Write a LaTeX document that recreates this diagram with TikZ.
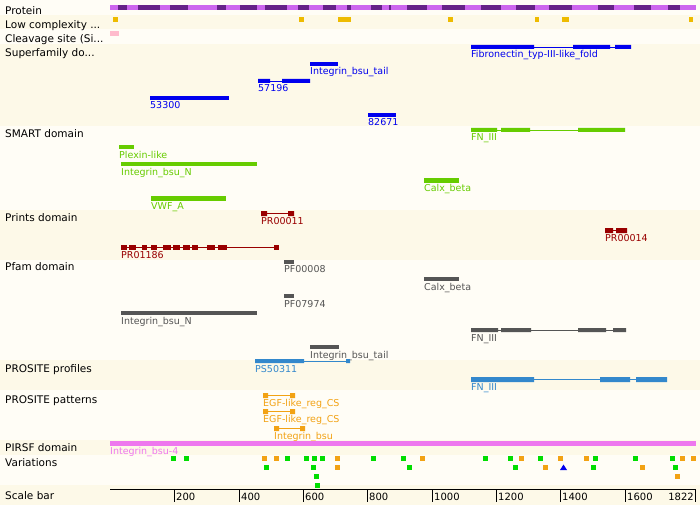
\documentclass[tikz,border=0pt]{standalone}
\usepackage{fontspec}
\setmainfont{DejaVu Sans}
\definecolor{cream}{RGB}{253,249,232}
\definecolor{pale}{RGB}{255,253,246}
\definecolor{protlight}{RGB}{204,102,238}
\definecolor{protdark}{RGB}{102,34,136}
\definecolor{lowc}{RGB}{238,187,0}
\definecolor{cleav}{RGB}{255,187,204}
\definecolor{sfblue}{RGB}{0,0,238}
\definecolor{smgreen}{RGB}{102,204,0}
\definecolor{prred}{RGB}{153,0,0}
\definecolor{pfgray}{RGB}{85,85,85}
\definecolor{psblue}{RGB}{51,136,204}
\definecolor{ptorange}{RGB}{242,162,20}
\definecolor{pirsf}{RGB}{238,119,238}
\definecolor{vgreen}{RGB}{0,221,0}
\begin{document}
\begin{tikzpicture}[x=1pt,y=-1pt,
  trk/.style={anchor=base west,inner sep=0pt,font=\fontsize{10.5}{12}\selectfont},
  flab/.style={anchor=base west,inner sep=0pt,text=#1,font=\fontsize{9.5}{11}\selectfont},
  link/.style={draw=#1,line width=0.8pt}]
\useasboundingbox (0,0) rectangle (700,505);
% row bands
\foreach \a/\b/\c in {0/15/pale,15/29/cream,29/44/pale,44/126/cream,126/210/pale,210/260/cream,
  260/360/pale,360/390/cream,390/440/pale,440/455/cream,455/485/pale,485/505/cream}
  \fill[\c] (0,\a) rectangle (700,\b);
% track names
\node[trk] (tprot) at (5,15) {Protein};
\node[trk] (tlowc) at (5,29) {Low complexity ...};
\node[trk] (tcleav) at (5,43) {Cleavage site (Si...};
\node[trk] (tsf) at (5,57) {Superfamily do...};
\node[trk] (tsmart) at (5,138) {SMART domain};
\node[trk] (tprints) at (5,221) {Prints domain};
\node[trk] (tpfam) at (5,270) {Pfam domain};
\node[trk] (tprof) at (5,372) {PROSITE profiles};
\node[trk] (tpatt) at (5,403) {PROSITE patterns};
\node[trk] (tpirsf) at (5,451) {PIRSF domain};
\node[trk] (tvar) at (5,466) {Variations};
\node[trk] (tscale) at (5,499) {Scale bar};
% protein
\fill[protlight] (110,5) rectangle (696,10);
\foreach \a/\b in {118/127,138/160,170/188,217/226,240/257,265/287,298/309,323/336,347/351,
  371/382,389/391,407/427,442/465,481/501,516/535,549/572,598/614,634/651,668/680}
  \fill[protdark] (\a,5) rectangle (\b,10);
% low complexity, cleavage
\foreach \a/\b in {113/118,299/304,338/351,448/453,535/539,562/569,689/693}
  \fill[lowc] (\a,17) rectangle (\b,22);
\fill[cleav] (110,31) rectangle (119,36);
% superfamily
\draw[link=sfblue] (534,47) -- (615,47);
\fill[sfblue] (471,45) rectangle (534,49) (573,45) rectangle (610,49) (615,45) rectangle (631,49);
\node[flab=sfblue] (sffn) at (471,58) {Fibronectin\_typ-III-like\_fold};
\fill[sfblue] (310,62) rectangle (338,66);
\node[flab=sfblue] (sftail) at (310,75) {Integrin\_bsu\_tail};
\draw[link=sfblue] (270,81) -- (282,81);
\fill[sfblue] (258,79) rectangle (270,83) (282,79) rectangle (310,83);
\node[flab=sfblue] (sf57196) at (258,92) {57196};
\fill[sfblue] (150,96) rectangle (229,100);
\node[flab=sfblue] (sf53300) at (150,109) {53300};
\fill[sfblue] (368,113) rectangle (396,117);
\node[flab=sfblue] (sf82671) at (368,126) {82671};
% SMART
\draw[link=smgreen] (471,130) -- (625,130);
\fill[smgreen] (471,128) rectangle (497,132) (501,128) rectangle (530,132) (578,128) rectangle (625,132);
\node[flab=smgreen] (smfn) at (471,141) {FN\_III};
\fill[smgreen] (119,145) rectangle (134,149);
\node[flab=smgreen] (smplex) at (119,158) {Plexin-like};
\fill[smgreen] (121,162) rectangle (257,166);
\node[flab=smgreen] (smintn) at (121,175) {Integrin\_bsu\_N};
\fill[smgreen] (424,178) rectangle (459,183);
\node[flab=smgreen] (smcalx) at (424,191) {Calx\_beta};
\fill[smgreen] (151,196) rectangle (226,201);
\node[flab=smgreen] (smvwf) at (151,209) {VWF\_A};
% Prints
\draw[link=prred] (261,213.5) -- (294,213.5);
\fill[prred] (261,211) rectangle (267,216) (288,211) rectangle (294,216);
\node[flab=prred] (pr11) at (261,224) {PR00011};
\draw[link=prred] (605,230.5) -- (627,230.5);
\fill[prred] (605,228) rectangle (613,233) (616,228) rectangle (627,233);
\node[flab=prred] (pr14) at (605,241) {PR00014};
\draw[link=prred] (121,247.5) -- (279,247.5);
\foreach \a/\b in {121/127,129/136,142/147,151/157,163/171,173/180,183/190,192/198,207/215,218/227,274/279}
  \fill[prred] (\a,245) rectangle (\b,250);
\node[flab=prred] (pr1186) at (121,258) {PR01186};
% Pfam
\fill[pfgray] (284,260) rectangle (294,264);
\node[flab=pfgray] (pf8) at (284,272) {PF00008};
\fill[pfgray] (424,277) rectangle (459,281);
\node[flab=pfgray] (pfcalx) at (424,290) {Calx\_beta};
\fill[pfgray] (284,294) rectangle (294,298);
\node[flab=pfgray] (pf7974) at (284,307) {PF07974};
\fill[pfgray] (121,311) rectangle (257,315);
\node[flab=pfgray] (pfintn) at (121,324) {Integrin\_bsu\_N};
\draw[link=pfgray] (471,330) -- (626,330);
\fill[pfgray] (471,328) rectangle (498,332) (501,328) rectangle (531,332) (578,328) rectangle (606,332) (613,328) rectangle (626,332);
\node[flab=pfgray] (pffn) at (471,341) {FN\_III};
\fill[pfgray] (310,345) rectangle (339,349);
\node[flab=pfgray] (pftail) at (310,358) {Integrin\_bsu\_tail};
% PROSITE profiles
\draw[link=psblue] (304,361) -- (346,361);
\fill[psblue] (255,359) rectangle (304,363) (346,359) rectangle (350,363);
\node[flab=psblue] (ps311) at (255,372) {PS50311};
\draw[link=psblue] (534,379.5) -- (636,379.5);
\fill[psblue] (471,377) rectangle (534,382) (600,377) rectangle (630,382) (636,377) rectangle (667,382);
\node[flab=psblue] (psfn) at (471,390) {FN\_III};
% PROSITE patterns
\draw[link=ptorange] (263,395.5) -- (295,395.5);
\fill[ptorange] (263,393) rectangle (268,398) (290,393) rectangle (295,398);
\node[flab=ptorange] (egf1) at (263,406) {EGF-like\_reg\_CS};
\draw[link=ptorange] (263,411.5) -- (295,411.5);
\fill[ptorange] (263,409) rectangle (268,414) (290,409) rectangle (295,414);
\node[flab=ptorange] (egf2) at (263,422) {EGF-like\_reg\_CS};
\draw[link=ptorange] (274,428.5) -- (305,428.5);
\fill[ptorange] (274,426) rectangle (279,431) (300,426) rectangle (305,431);
\node[flab=ptorange] (ptint) at (274,439) {Integrin\_bsu};
% PIRSF
\fill[pirsf] (110,441) rectangle (696,446);
\node[flab=pirsf] (pir4) at (110,454) {Integrin\_bsu-4};
% variations
\foreach \x in {171,184,285,304,312,320,371,401,483,508,538,593,633,670}
  \fill[vgreen] (\x,456) rectangle +(5,5);
\foreach \x in {262,274,335,420,519,558,584,680,691}
  \fill[ptorange] (\x,456) rectangle +(5,5);
\foreach \x in {264,311,407,513,591,673}
  \fill[vgreen] (\x,465) rectangle +(5,5);
\foreach \x in {335,543,640}
  \fill[ptorange] (\x,465) rectangle +(5,5);
\fill[sfblue] (560,470) -- (563.5,464.5) -- (567,470) -- cycle;
\fill[vgreen] (314,474) rectangle +(5,5);
\fill[ptorange] (675,474) rectangle +(5,5);
\fill[vgreen] (315,483) rectangle +(5,5);
% scale bar
\draw[line width=1pt] (110,489) -- (696,489);
\foreach \v/\p in {200/174,400/239,600/303,800/367,1000/432,1200/496,1400/560,1600/625}{
  \draw[line width=0.6pt] (\p,489) -- (\p,502);
  \node[trk,font=\fontsize{10}{12}\selectfont] (s\v) at (\p+2,500) {\v};
}
\draw[line width=0.6pt] (695,489) -- (695,502);
\node[trk,anchor=base east,font=\fontsize{10}{12}\selectfont] (s1822) at (694,500) {1822};
\end{tikzpicture}
\end{document}
